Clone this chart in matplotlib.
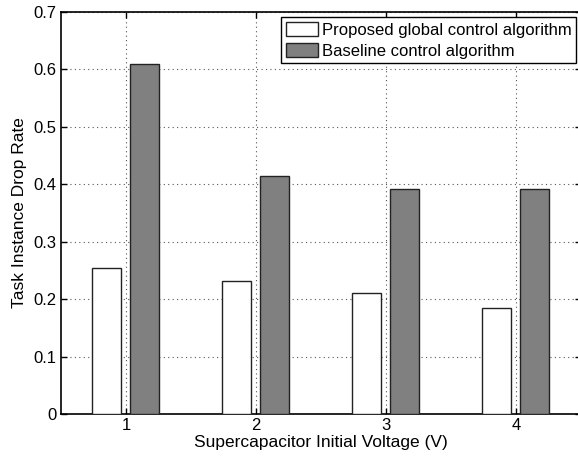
import matplotlib
matplotlib.use("Agg")
import matplotlib.pyplot as plt
import numpy as np

plt.rcParams['font.family'] = ['Liberation Sans', 'DejaVu Sans']

voltages = [1, 2, 3, 4]
proposed = [0.255, 0.231, 0.211, 0.185]
baseline = [0.609, 0.414, 0.391, 0.392]
series_labels = ["Proposed global control algorithm", "Baseline control algorithm"]
xlabel = "Supercapacitor Initial Voltage (V)"
ylabel = "Task Instance Drop Rate"

fig = plt.figure(figsize=(5.78, 4.59), dpi=100)
ax = fig.add_axes([61/578, 1-414/459, 520/578, 402/459])

x = np.array(voltages, dtype=float)
w = 0.225
ax.bar(x - 0.152, proposed, width=w, color='white', edgecolor='#222222', linewidth=1.0,
       label=series_labels[0], zorder=3)
ax.bar(x + 0.142, baseline, width=w, color='#808080', edgecolor='#222222', linewidth=1.0,
       label=series_labels[1], zorder=3)

ax.set_xlim(0.5, 4.5)
ax.set_ylim(0, 0.7)
ax.set_xticks(voltages)
ax.set_xticklabels([str(v) for v in voltages])
ax.set_yticks(np.arange(0, 0.71, 0.1))
ax.set_yticklabels(['0', '0.1', '0.2', '0.3', '0.4', '0.5', '0.6', '0.7'])
ax.tick_params(direction='in', top=True, right=True, length=4, width=1, labelsize=12, pad=3)
ax.grid(True, linestyle=(0, (1, 3)), color='#555555', linewidth=0.8, zorder=0)
ax.set_axisbelow(True)
for s in ax.spines.values():
    s.set_linewidth(1.2)
    s.set_color('black')

ax.set_xlabel(xlabel, fontsize=12.5, labelpad=1)
ax.set_ylabel(ylabel, fontsize=12.5, labelpad=5)

leg = ax.legend(loc='upper right', bbox_to_anchor=(576/578, 1-17.3/459),
                bbox_transform=fig.transFigure, borderaxespad=0,
                fontsize=12, handlelength=1.92, handleheight=0.96,
                labelspacing=0.29, handletextpad=0.24, borderpad=0.27,
                fancybox=False, framealpha=1, edgecolor='black')
leg.get_frame().set_linewidth(1.0)

fig.savefig('out.png', dpi=100)
